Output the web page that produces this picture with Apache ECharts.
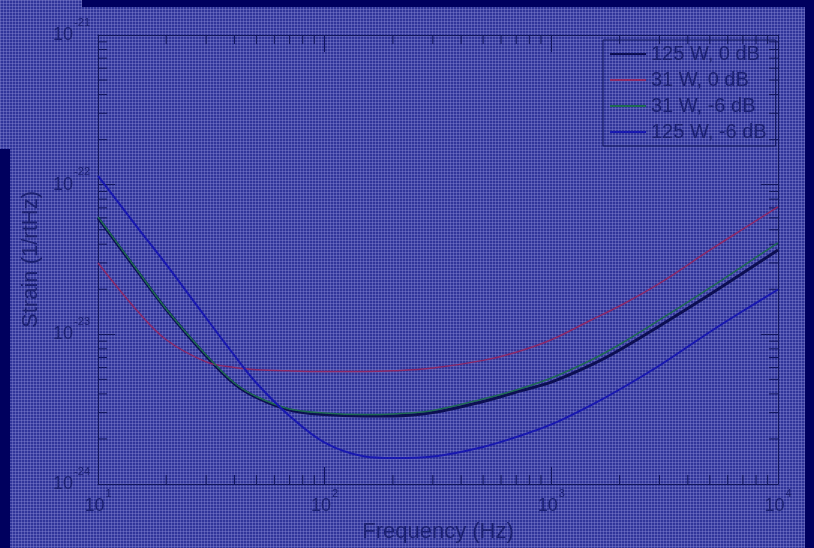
<!DOCTYPE html>
<html>
<head>
<meta charset="utf-8">
<script src="https://cdn.jsdelivr.net/npm/echarts@6/dist/echarts.min.js"></script>
<style>
html, body { margin: 0; padding: 0; }
body {
  width: 814px; height: 548px; overflow: hidden;
  background-color: #30359a;
  background-image:
    linear-gradient(to right, rgba(140,140,215,0.40) 1px, transparent 1px),
    linear-gradient(to bottom, rgba(140,140,215,0.40) 1px, transparent 1px);
  background-size: 3px 3px;
}
#chart { width: 814px; height: 548px; }
</style>
</head>
<body>
<div id="chart"></div>
<script>
// ---- data ----
const freqs = [10, 15, 20, 30, 40, 50, 70, 100, 150, 200, 300, 500, 700, 1000, 1500, 2000, 3000, 5000, 7000, 10000];
const strain125W0dB  = [5.99e-23, 2.61e-23, 1.466e-23, 7.17e-24, 4.66e-24, 3.785e-24, 3.12e-24, 2.91e-24, 2.85e-24, 2.85e-24, 3.0e-24, 3.56e-24, 4.12e-24, 4.80e-24, 6.25e-24, 7.86e-24, 1.137e-23, 1.845e-23, 2.57e-23, 3.66e-23];
const strain31W0dB   = [3.0e-23, 1.42e-23, 9.2e-24, 6.55e-24, 6.0e-24, 5.8e-24, 5.7e-24, 5.65e-24, 5.65e-24, 5.7e-24, 5.95e-24, 6.7e-24, 7.6e-24, 9.2e-24, 1.247e-23, 1.546e-23, 2.19e-23, 3.65e-23, 5.05e-23, 7.1e-23];
const strain31Wm6dB  = [6.08e-23, 2.65e-23, 1.476e-23, 7.28e-24, 4.73e-24, 3.84e-24, 3.17e-24, 2.98e-24, 2.91e-24, 2.94e-24, 3.10e-24, 3.70e-24, 4.25e-24, 5.11e-24, 6.74e-24, 8.55e-24, 1.247e-23, 2.04e-23, 2.86e-23, 4.08e-23];
const strain125Wm6dB = [1.143e-22, 5.13e-23, 2.93e-23, 1.286e-23, 7.22e-24, 4.73e-24, 2.85e-24, 1.888e-24, 1.527e-24, 1.492e-24, 1.527e-24, 1.768e-24, 2.06e-24, 2.50e-24, 3.37e-24, 4.28e-24, 6.19e-24, 1.037e-23, 1.432e-23, 1.993e-23];
const seriesNames = ['125 W, 0 dB', '31 W, 0 dB', '31 W, -6 dB', '125 W, -6 dB'];
// axis ranges (decade exponents, plotted on log10 scale)
const xExpMin = 1, xExpMax = 4;
const yExpMin = -24, yExpMax = -21;
const minorMultipliers = [2, 3, 4, 5, 6, 7, 8, 9];
const xDecades = [10, 100, 1000];
const yDecades = [1e-24, 1e-23, 1e-22];

// ---- styling ----
const FONT = "'Liberation Sans', Arial, Helvetica, sans-serif";
const TEXT = '#1c2172';
const AXIS = '#11165e';
const colors = ['#0d0f52', '#8e2866', '#1e6a52', '#1818b0'];
const widths = [3, 1.5, 1.5, 2];
const MINOR_LEN = 9;

// log10 transform for the value axes (ECharts log axes cannot handle 1e-24)
const lg = Math.log10;
const xMinor = [], yMinor = [];
xDecades.forEach(d => minorMultipliers.forEach(m => xMinor.push([lg(m * d), yExpMin])));
yDecades.forEach(d => minorMultipliers.forEach(m => yMinor.push([xExpMin, lg(m * d)])));

function pow10Label(v) {
  return '{b|10}{s|' + Math.round(v) + '}';
}
const rich = {
  b: { fontSize: 18, lineHeight: 36, verticalAlign: 'middle', color: TEXT, fontFamily: FONT },
  s: { fontSize: 11, lineHeight: 11, verticalAlign: 'top', color: TEXT, fontFamily: FONT, padding: [0, 0, 0, 1] }
};

function pairs(ys) { return freqs.map((f, i) => [lg(f), lg(ys[i])]); }

function tickLine(x1, y1, x2, y2) {
  return { type: 'line', shape: { x1: x1, y1: y1, x2: x2, y2: y2 }, style: { stroke: AXIS, lineWidth: 1 } };
}

const chart = echarts.init(document.getElementById('chart'), null, { renderer: 'canvas' });

function xAx(pos, extra) {
  return Object.assign({
    type: 'value', min: xExpMin, max: xExpMax, interval: 1, position: pos,
    axisLine: { show: true, onZero: false, lineStyle: { color: AXIS, width: 1 } },
    axisTick: { show: true, inside: true, length: 17, lineStyle: { color: AXIS } },
    axisLabel: { show: false }, splitLine: { show: false }
  }, extra || {});
}
function yAx(pos, extra) {
  return Object.assign({
    type: 'value', min: yExpMin, max: yExpMax, interval: 1, position: pos,
    axisLine: { show: true, onZero: false, lineStyle: { color: AXIS, width: 1 } },
    axisTick: { show: true, inside: true, length: 17, lineStyle: { color: AXIS } },
    axisLabel: { show: false }, splitLine: { show: false }
  }, extra || {});
}

const option = {
  backgroundColor: 'transparent',
  animation: false,
  grid: { left: 98, right: 36, top: 35, bottom: 64, containLabel: false },
  legend: {
    data: seriesNames,
    orient: 'vertical',
    left: 603, top: 40,
    padding: [4, 9, 4, 6],
    itemGap: 6,
    itemWidth: 36, itemHeight: 20,
    borderColor: AXIS, borderWidth: 1,
    itemStyle: { opacity: 0, borderWidth: 0 },
    textStyle: { fontSize: 20, color: TEXT, fontFamily: FONT }
  },
  xAxis: [
    xAx('bottom', {
      name: 'Frequency (Hz)', nameLocation: 'middle', nameGap: 37,
      nameTextStyle: { fontSize: 22, color: TEXT, fontFamily: FONT },
      axisLabel: { show: true, margin: 4, formatter: pow10Label, rich: rich, showMinLabel: true, showMaxLabel: true }
    }),
    xAx('top')
  ],
  yAxis: [
    yAx('left', {
      name: 'Strain (1/rtHz)', nameLocation: 'middle', nameGap: 54, nameRotate: 90,
      nameTextStyle: { fontSize: 22, color: TEXT, fontFamily: FONT },
      axisLabel: { show: true, margin: 8, formatter: pow10Label, rich: rich, showMinLabel: true, showMaxLabel: true }
    }),
    yAx('right')
  ],
  series: [strain125W0dB, strain31W0dB, strain31Wm6dB, strain125Wm6dB].map((ys, i) => ({
    name: seriesNames[i],
    type: 'line',
    xAxisIndex: 0, yAxisIndex: 0,
    data: pairs(ys),
    smooth: 0.35,
    symbol: 'none',
    color: colors[i],
    lineStyle: { color: colors[i], width: widths[i] },
    z: 2 + i
  })).concat([
    {
      name: 'xMinorTicks', type: 'custom', xAxisIndex: 0, yAxisIndex: 0, clip: false, silent: true,
      data: xMinor,
      renderItem: function (params, api) {
        const b = api.coord([api.value(0), yExpMin]);
        const t = api.coord([api.value(0), yExpMax]);
        return { type: 'group', children: [
          tickLine(b[0], b[1], b[0], b[1] - MINOR_LEN),
          tickLine(t[0], t[1], t[0], t[1] + MINOR_LEN)
        ] };
      }
    },
    {
      name: 'yMinorTicks', type: 'custom', xAxisIndex: 0, yAxisIndex: 0, clip: false, silent: true,
      data: yMinor,
      renderItem: function (params, api) {
        const l = api.coord([xExpMin, api.value(1)]);
        const r = api.coord([xExpMax, api.value(1)]);
        return { type: 'group', children: [
          tickLine(l[0], l[1], l[0] + MINOR_LEN, l[1]),
          tickLine(r[0], r[1], r[0] - MINOR_LEN, r[1])
        ] };
      }
    }
  ]),
  graphic: [
    { type: 'rect', shape: { x: 82, y: 0, width: 732, height: 7 }, style: { fill: '#00005e' }, z: 100 },
    { type: 'rect', shape: { x: 805, y: 0, width: 9, height: 548 }, style: { fill: '#00005e' }, z: 100 },
    { type: 'rect', shape: { x: 0, y: 149, width: 10, height: 399 }, style: { fill: '#00005e' }, z: 100 }
  ]
};
chart.setOption(option);
</script>
</body>
</html>
